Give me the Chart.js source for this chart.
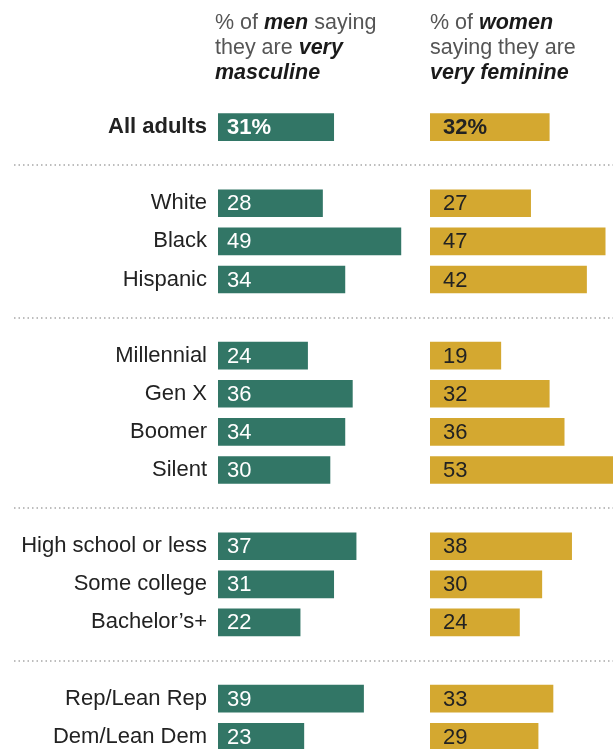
<!DOCTYPE html>
<html>
<head>
<meta charset="utf-8">
<script src="https://cdn.jsdelivr.net/npm/chart.js@4/dist/chart.umd.min.js"></script>
<style>
  html, body { margin: 0; padding: 0; background: #fff; }
  #frame { position: relative; width: 613px; height: 749px; overflow: hidden; }
  #chart { position: absolute; left: 0; top: 0; }
  .hdr {
    position: absolute; top: 10px;
    font: 21.5px/25px "Liberation Sans", Arial, sans-serif;
    color: #555; white-space: nowrap;
  }
  .hdr b { color: #1a1a1a; font-style: italic; }
</style>
</head>
<body>
<div id="frame">
  <canvas id="chart" width="613" height="780"></canvas>
  <div class="hdr" style="left:215px">% of <b>men</b> saying<br>they are <b>very</b><br><b>masculine</b></div>
  <div class="hdr" style="left:430px">% of <b>women</b><br>saying they are<br><b>very feminine</b></div>
</div>
<script>
(() => {
  const FONT = '"Liberation Sans", Arial, sans-serif';

  // empty strings are the spacer rows that carry the dotted separators
  const groups = ['All adults', '', 'White', 'Black', 'Hispanic', '', 'Millennial', 'Gen X', 'Boomer', 'Silent', '',
    'High school or less', 'Some college', 'Bachelor\u2019s+', '', 'Rep/Lean Rep', 'Dem/Lean Dem'];
  const menVeryMasculine = [31, null, 28, 49, 34, null, 24, 36, 34, 30, null, 37, 31, 22, null, 39, 23];
  const womenVeryFeminine = [32, null, 27, 47, 42, null, 19, 32, 36, 53, null, 38, 30, 24, null, 33, 29];

  const GREEN = '#327666';
  const GOLD = '#d4a830';

  const separators = {
    id: 'separators',
    beforeDatasetsDraw(chart) {
      const { ctx } = chart;
      const y = chart.scales.y;
      ctx.save();
      ctx.strokeStyle = '#a8a8a8';
      ctx.lineWidth = 1.5;
      ctx.setLineDash([1.5, 3]);
      groups.forEach((g, i) => {
        if (g) return;
        const py = Math.round(y.getPixelForValue(i));
        ctx.beginPath();
        ctx.moveTo(14, py);
        ctx.lineTo(chart.width, py);
        ctx.stroke();
      });
      ctx.restore();
    }
  };

  const valueLabels = {
    id: 'valueLabels',
    afterDatasetsDraw(chart) {
      const { ctx } = chart;
      ctx.save();
      ctx.textBaseline = 'middle';
      chart.data.datasets.forEach((ds, di) => {
        const meta = chart.getDatasetMeta(di);
        meta.data.forEach((bar, i) => {
          const v = ds.data[i];
          if (v == null) return;
          ctx.font = `${i === 0 ? 'bold ' : ''}22px ${FONT}`;
          ctx.fillStyle = ds.labelColor;
          ctx.fillText(i === 0 ? `${v}%` : String(v), bar.base + ds.labelIndent, bar.y + 1);
        });
      });
      ctx.restore();
    }
  };

  new Chart(document.getElementById('chart'), {
    type: 'bar',
    data: {
      labels: groups,
      datasets: [
        {
          label: 'Men: very masculine',
          data: menVeryMasculine,
          xAxisID: 'x',
          backgroundColor: GREEN,
          labelColor: '#ffffff',
          labelIndent: 9
        },
        {
          label: 'Women: very feminine',
          data: womenVeryFeminine,
          xAxisID: 'x2',
          backgroundColor: GOLD,
          labelColor: '#222222',
          labelIndent: 13
        }
      ]
    },
    options: {
      indexAxis: 'y',
      responsive: false,
      animation: false,
      datasets: { bar: { grouped: false, barThickness: 27 } },
      layout: { padding: { top: 108, bottom: 24, left: 0, right: 0 } },
      scales: {
        x: { display: false, min: 0, max: 56.8, stack: 'panels', stackWeight: 212 },
        x2: { display: false, min: 0, max: 49.1, stack: 'panels', stackWeight: 183 },
        y: {
          grid: { display: false, drawTicks: false },
          border: { display: false },
          afterFit(scale) { scale.width = 218; },
          ticks: {
            padding: 11,
            color: '#222',
            font: (ctx) => ({ family: FONT, size: 22, weight: ctx.index === 0 ? 'bold' : 'normal' })
          }
        }
      },
      plugins: {
        legend: { display: false },
        tooltip: { enabled: false }
      }
    },
    plugins: [separators, valueLabels]
  });
})();
</script>
</body>
</html>
